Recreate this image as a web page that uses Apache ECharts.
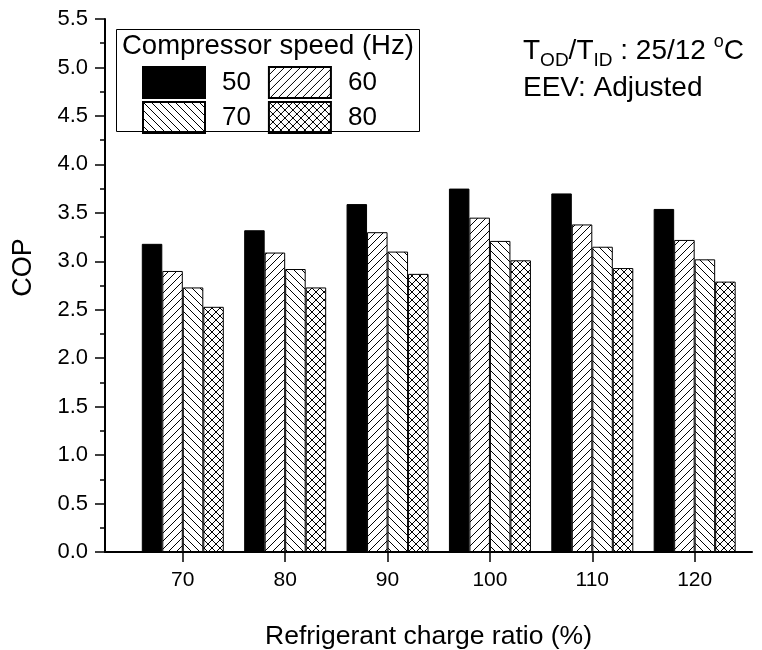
<!DOCTYPE html>
<html>
<head>
<meta charset="utf-8">
<script src="https://cdn.jsdelivr.net/npm/echarts@6/dist/echarts.min.js"></script>
<style>
  html, body { margin: 0; padding: 0; background: #fff; }
  #chart { width: 762px; height: 650px; }
</style>
</head>
<body>
<div id="chart"></div>
<script>
// ---- data ----
const chargeRatios = [70, 80, 90, 100, 110, 120];
const speedNames = ['50', '60', '70', '80'];
const cop50 = [3.18, 3.32, 3.59, 3.75, 3.70, 3.54];
const cop60 = [2.90, 3.09, 3.30, 3.45, 3.38, 3.22];
const cop70 = [2.73, 2.92, 3.10, 3.21, 3.15, 3.02];
const cop80 = [2.53, 2.73, 2.87, 3.01, 2.93, 2.79];
const xTickValues = [70, 80, 90, 100, 110, 120];

const FONT = 'Liberation Sans, Arial, sans-serif';

function hatch(fwd, back) {
  const s = 8;
  const c = document.createElement('canvas');
  c.width = s; c.height = s;
  const g = c.getContext('2d');
  g.fillStyle = '#fff';
  g.fillRect(0, 0, s, s);
  g.strokeStyle = '#000';
  g.lineWidth = 1;
  g.beginPath();
  for (const k of [-s, 0, s]) {
    if (fwd) { g.moveTo(k, s); g.lineTo(k + s, 0); }
    if (back) { g.moveTo(k, 0); g.lineTo(k + s, s); }
  }
  g.stroke();
  return c;
}

const fills = [
  '#000',
  { image: hatch(true, false), repeat: 'repeat' },
  { image: hatch(false, true), repeat: 'repeat' },
  { image: hatch(true, true), repeat: 'repeat' }
];
const values = [cop50, cop60, cop70, cop80];

const series = speedNames.map((name, i) => ({
  name: name,
  type: 'bar',
  barWidth: 20.5,
  barGap: '0%',
  itemStyle: { color: fills[i], borderColor: '#000', borderWidth: 1 },
  data: chargeRatios.map((x, j) => [x, values[i][j]])
}));

const chart = echarts.init(document.getElementById('chart'), null, { renderer: 'canvas' });

const legendCommon = {
  left: 137,
  itemWidth: 62,
  itemHeight: 31,
  itemGap: 17,
  icon: 'rect',
  selectedMode: false,
  textStyle: { fontSize: 26, color: '#000', fontFamily: FONT, padding: [0, 0, 0, 12] }
};

chart.setOption({
  animation: false,
  backgroundColor: '#fff',
  textStyle: { fontFamily: FONT, color: '#000' },
  title: [
    {
      text: 'Compressor speed (Hz)',
      left: 116, top: 29,
      padding: [3, 6, 71, 6],
      borderColor: '#000', borderWidth: 1,
      textStyle: { fontSize: 27.5, fontWeight: 'normal', color: '#000', fontFamily: FONT, lineHeight: 29 }
    },
    {
      text: '{n|T}{s|OD}{n|/T}{s|ID}{n| : 25/12 }{p|o}{n|C}\n{n|EEV: Adjusted}',
      left: 523, top: 33,
      padding: 0,
      textStyle: {
        fontFamily: FONT,
        fontWeight: 'normal',
        rich: {
          n: { fontSize: 28, fontWeight: 'normal', color: '#000', fontFamily: FONT, lineHeight: 37 },
          s: { fontSize: 19, fontWeight: 'normal', color: '#000', fontFamily: FONT, lineHeight: 37, verticalAlign: 'bottom' },
          p: { fontSize: 18, fontWeight: 'normal', color: '#000', fontFamily: FONT, lineHeight: 37, verticalAlign: 'top' }
        }
      }
    }
  ],
  legend: [
    Object.assign({ data: ['50', '60'], top: 61 }, legendCommon),
    Object.assign({ data: ['70', '80'], top: 96 }, legendCommon)
  ],
  grid: { left: 105, right: 10, top: 19, bottom: 98, outerBoundsMode: 'none', containLabel: false },
  xAxis: {
    type: 'value',
    min: 62.4, max: 125.6,
    name: 'Refrigerant charge ratio (%)',
    nameLocation: 'middle',
    nameGap: 71,
    nameTextStyle: { fontSize: 26.5, color: '#000', fontFamily: FONT },
    splitLine: { show: false },
    axisLine: { show: true, onZero: false, lineStyle: { color: '#000', width: 2 } },
    axisTick: { show: true, length: 10, lineStyle: { color: '#000', width: 1.5 }, customValues: xTickValues },
    axisLabel: { fontSize: 21, color: '#000', fontFamily: FONT, margin: 18, customValues: xTickValues }
  },
  yAxis: {
    type: 'value',
    min: 0, max: 5.5, interval: 0.5,
    name: 'COP',
    nameLocation: 'middle',
    nameGap: 68,
    nameTextStyle: { fontSize: 27, color: '#000', fontFamily: FONT, padding: [0, 0, 0, 36] },
    splitLine: { show: false },
    axisLine: { show: true, lineStyle: { color: '#000', width: 2 } },
    axisTick: { show: true, length: 10, lineStyle: { color: '#000', width: 1.5 } },
    minorTick: { show: true, splitNumber: 2, length: 5, lineStyle: { color: '#000', width: 1.5 } },
    axisLabel: { fontSize: 22, color: '#000', fontFamily: FONT, margin: 17, formatter: v => v.toFixed(1) }
  },
  series: series
});
</script>
</body>
</html>
